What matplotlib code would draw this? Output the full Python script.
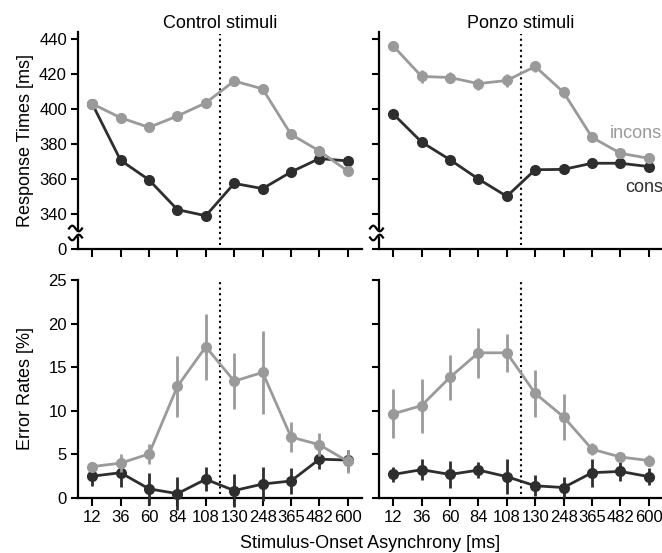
import numpy as np
import matplotlib
matplotlib.use("Agg")
import matplotlib.pyplot as plt
import matplotlib.transforms as mtransforms

plt.rcParams['font.family'] = ['Liberation Sans', 'DejaVu Sans']

soa_labels = ['12', '36', '60', '84', '108', '130', '248', '365', '482', '600']

# response times [ms]
ctrl_rt_incons = [403, 395, 389.5, 396, 403.5, 416, 411.5, 385.5, 376, 364.5]
ctrl_rt_incons_err = [1.5, 2.0, 2.0, 2.5, 3.0, 2.5, 2.0, 2.0, 2.0, 1.5]
ctrl_rt_cons = [403, 370.7, 359.5, 342.5, 339, 357.5, 354.5, 364, 371.7, 370.3]
ctrl_rt_cons_err = [1.5, 2.0, 2.0, 1.5, 2.5, 2.0, 2.0, 2.5, 2.5, 2.5]
ponzo_rt_incons = [436, 418.6, 418, 414.5, 416.3, 424.3, 409.5, 383.8, 374.7, 371.8]
ponzo_rt_incons_err = [3.0, 3.5, 3.0, 3.5, 3.5, 3.0, 3.0, 2.5, 2.0, 1.5]
ponzo_rt_cons = [397.2, 381.1, 371, 360, 350.1, 365.3, 365.5, 369, 369, 367.1]
ponzo_rt_cons_err = [2.0, 2.5, 2.0, 2.0, 2.5, 2.5, 2.0, 2.0, 2.5, 2.0]

# error rates [%]
ctrl_er_incons = [3.6, 4.0, 5.05, 12.8, 17.35, 13.4, 14.4, 7.0, 6.1, 4.2]
ctrl_er_incons_err = [0.5, 1.0, 1.1, 3.5, 3.8, 3.2, 4.8, 1.7, 1.3, 1.3]
ctrl_er_cons = [2.5, 2.9, 1.05, 0.5, 2.15, 0.85, 1.6, 1.95, 4.45, 4.35]
ctrl_er_cons_err = [1.1, 1.6, 1.8, 1.9, 1.4, 1.9, 2.0, 1.5, 1.1, 1.2]
ponzo_er_incons = [9.65, 10.6, 13.85, 16.65, 16.65, 12.0, 9.3, 5.6, 4.7, 4.3]
ponzo_er_incons_err = [2.8, 3.1, 2.6, 2.9, 2.2, 2.7, 2.6, 0.7, 0.6, 0.6]
ponzo_er_cons = [2.7, 3.25, 2.7, 3.2, 2.45, 1.4, 1.2, 2.9, 3.05, 2.45]
ponzo_er_cons_err = [0.9, 1.2, 1.5, 0.9, 2.0, 1.2, 1.2, 1.6, 1.1, 1.0]

gray = '#9a9a9a'
dark = '#2e2e2e'
x = np.arange(len(soa_labels))

fig = plt.figure(figsize=(6.62, 5.53), dpi=100)
W, H = 662.0, 553.0

def make_ax(left_px, top_px, bottom_px, right_px):
    return fig.add_axes([left_px / W, 1 - bottom_px / H,
                         (right_px - left_px) / W, (bottom_px - top_px) / H])

ax_tl = make_ax(78, 32, 249, 362)
ax_tr = make_ax(379, 32, 249, 663)
ax_bl = make_ax(78, 280, 498, 362)
ax_br = make_ax(379, 280, 498, 663)


def draw(ax, yi, yie, yc, yce):
    ax.errorbar(x, yc, yerr=yce, color=dark, marker='o', ms=7, lw=2,
                elinewidth=2, capsize=0, clip_on=False, zorder=3)
    ax.errorbar(x, yi, yerr=yie, color=gray, marker='o', ms=7, lw=2,
                elinewidth=2, capsize=0, clip_on=False, zorder=4)


draw(ax_tl, ctrl_rt_incons, ctrl_rt_incons_err, ctrl_rt_cons, ctrl_rt_cons_err)
draw(ax_tr, ponzo_rt_incons, ponzo_rt_incons_err, ponzo_rt_cons, ponzo_rt_cons_err)
draw(ax_bl, ctrl_er_incons, ctrl_er_incons_err, ctrl_er_cons, ctrl_er_cons_err)
draw(ax_br, ponzo_er_incons, ponzo_er_incons_err, ponzo_er_cons, ponzo_er_cons_err)

for ax in [ax_tl, ax_tr, ax_bl, ax_br]:
    ax.set_xlim(-0.5, 9.5)
    ax.spines['top'].set_visible(False)
    ax.spines['right'].set_visible(False)
    ax.spines['left'].set_linewidth(1.6)
    ax.spines['bottom'].set_linewidth(1.6)
    ax.tick_params(direction='out', length=5, width=1.5, labelsize=12,
                   color='black', pad=3)
    ax.tick_params(axis='x', length=6)
    ax.set_xticks(x)
    ax.axvline(4.5, color='black', ls=':', lw=1.5, ymin=0.02, ymax=0.99)

for ax in [ax_tl, ax_tr]:
    ax.set_ylim(320, 444)
    ax.set_yticks([320, 340, 360, 380, 400, 420, 440])
    ax.set_xticklabels([])
    # axis break marks, drawn in pixel offsets around the spine
    brk = (fig.dpi_scale_trans +
           mtransforms.ScaledTranslation(0, 0, ax.transAxes) +
           mtransforms.Affine2D().translate(0, 16))
    ax.add_patch(plt.Rectangle((-0.015, -0.02), 0.03, 0.04, color='white',
                               transform=brk, clip_on=False, zorder=5))
    xs = np.linspace(-9, 4, 40)
    for yc in [4.5, -4.5]:
        ys = yc + 2.8 * np.sin(2 * np.pi * (xs + 9) / 13.0) * np.sign(yc)
        ax.add_line(plt.Line2D(xs / 100.0, ys / 100.0, color='black', lw=1.6,
                               transform=brk, clip_on=False, zorder=6))

ax_tl.set_yticklabels(['0', '340', '360', '380', '400', '420', '440'])
ax_tr.set_yticklabels([])

for ax in [ax_bl, ax_br]:
    ax.set_ylim(0, 25)
    ax.set_yticks([0, 5, 10, 15, 20, 25])
    ax.set_xticklabels(soa_labels)
ax_br.set_yticklabels([])

ax_tl.set_ylabel('Response Times [ms]', fontsize=13)
ax_bl.set_ylabel('Error Rates [%]', fontsize=13)
ax_tl.yaxis.set_label_coords(-0.155, 0.5)
ax_bl.yaxis.set_label_coords(-0.155, 0.5)
ax_tl.set_title('Control stimuli', fontsize=13, pad=2)
ax_tr.set_title('Ponzo stimuli', fontsize=13, pad=2)

fig.text(370 / W, 1 - 543 / H, 'Stimulus-Onset Asynchrony [ms]', fontsize=13,
         ha='center', va='center')
fig.text(610 / W, 1 - 133 / H, 'incons', fontsize=13, color=gray,
         ha='left', va='center')
fig.text(625 / W, 1 - 188 / H, 'cons', fontsize=13, color=dark,
         ha='left', va='center')

fig.savefig('out.png', dpi=100)
